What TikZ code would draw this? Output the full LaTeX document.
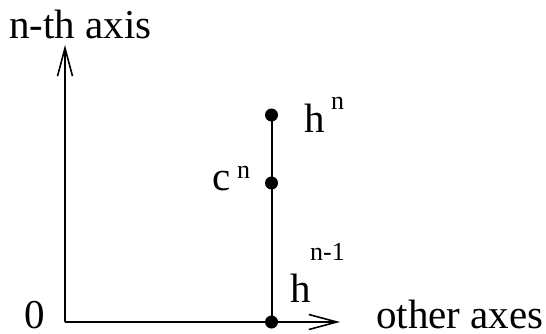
\documentclass[tikz,border=0pt]{standalone}
\usepackage{fontspec}
\setmainfont{Liberation Serif}
\usetikzlibrary{arrows.meta}
\begin{document}
\begin{tikzpicture}[x=1pt,y=-1pt,
  lbl/.style={inner sep=0pt,anchor=base west,text depth=0pt,font=\fontsize{41}{48}\selectfont},
  supl/.style={inner sep=0pt,anchor=base west,font=\fontsize{26}{30}\selectfont},
  dotn/.style={circle,fill=black,inner sep=0pt,minimum size=13pt},
  axis/.style={line width=2pt,-{Straight Barb[length=28pt,width=15pt,line width=1.6pt]}},
  seg/.style={line width=2pt}]
\useasboundingbox (0,0) rectangle (546,334);
\coordinate (O) at (65,322);
\coordinate (ytip) at (65,45);
\coordinate (xtip) at (340,322);
\node[dotn] (d0) at (271.5,322) {};
\node[dotn] (d1) at (271.5,183) {};
\node[dotn] (d2) at (271.5,115) {};
\draw[axis] (O) -- (ytip);
\draw[axis] (O) -- (xtip);
\draw[seg] (d0.center) -- (d2.center);
% labels
\node[lbl] (ylab) at (9,39) {n-th axis};
\node[lbl] (zero) at (24,328) {0};
\node[lbl] (xlab) at (376,328) {other axes};
\node[lbl] (hn) at (304,133) {h};
\node[supl] (hnsup) at (331,110) {n};
\node[lbl] (cn) at (212,190) {c};
\node[supl] (cnsup) at (237,178) {n};
\node[lbl] (hm) at (290,302) {h};
\node[supl] (hmsup) at (310,260) {n-1};
\end{tikzpicture}
\end{document}
